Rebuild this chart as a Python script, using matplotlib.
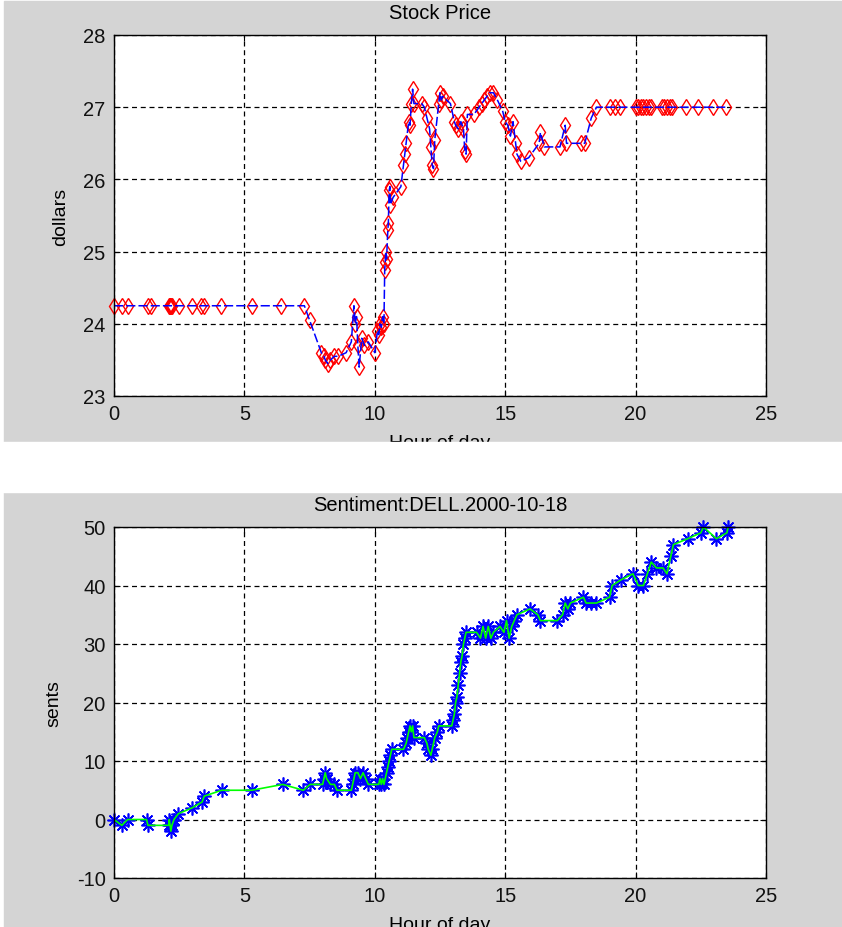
import matplotlib
matplotlib.use("Agg")
import matplotlib.pyplot as plt
from matplotlib.patches import Rectangle

plt.rcParams['font.family'] = ['Liberation Sans', 'DejaVu Sans']
plt.rcParams['axes.unicode_minus'] = False

# stock price (hour of day, dollars)
price_hours = [0.0, 0.3, 0.55, 1.3, 1.4, 2.1, 2.13, 2.16, 2.19, 2.22, 2.5, 3.0, 3.35, 3.45,
               4.1, 5.3, 6.4, 7.3, 7.5,
               7.95, 8.05, 8.1, 8.2, 8.3, 8.45, 8.6, 8.9, 9.1, 9.2, 9.25, 9.3, 9.35, 9.4,
               9.5, 9.6, 9.75, 10.0, 10.1, 10.15, 10.2, 10.25, 10.3, 10.35,
               10.38, 10.4, 10.42, 10.45, 10.5, 10.52, 10.55, 10.58, 10.6, 10.7, 11.0,
               11.1, 11.15, 11.2, 11.3, 11.35, 11.4, 11.45, 11.5, 11.8, 11.9, 12.0, 12.1,
               12.15, 12.2, 12.25, 12.3, 12.45, 12.5, 12.55, 12.6, 12.9, 13.05, 13.1, 13.2,
               13.3, 13.4, 13.45, 13.5, 13.55, 13.8, 14.0, 14.1, 14.2, 14.3, 14.4, 14.55,
               14.7, 14.9, 15.0, 15.1, 15.2, 15.3, 15.4, 15.45, 15.6, 15.9, 16.3, 16.35,
               16.5, 17.1, 17.3, 17.35, 17.9, 18.05, 18.3, 18.5, 19.0, 19.2, 19.4,
               20.0, 20.1, 20.2, 20.3, 20.4, 20.5, 20.6, 21.0, 21.1, 21.2, 21.3, 21.4,
               21.95, 22.4, 22.95, 23.45]
price = [24.25, 24.25, 24.25, 24.25, 24.25, 24.25, 24.25, 24.25, 24.25, 24.25, 24.25, 24.25,
         24.25, 24.25, 24.25, 24.25, 24.25, 24.25, 24.05,
         23.6, 23.55, 23.5, 23.45, 23.5, 23.55, 23.55, 23.6, 23.75, 24.25, 24.0, 24.1,
         23.7, 23.4, 23.8, 23.7, 23.75, 23.6, 23.9, 23.85, 24.0, 23.95, 24.1, 24.0,
         24.75, 24.85, 25.0, 24.9, 25.3, 25.4, 25.85, 25.9, 25.65, 25.75, 25.9,
         26.2, 26.35, 26.5, 26.8, 26.75, 27.05, 27.25, 27.05, 27.05, 27.0, 26.85, 26.7,
         26.45, 26.2, 26.15, 26.55, 27.05, 27.2, 27.1, 27.15, 27.05, 26.8, 26.75, 26.7,
         26.8, 26.7, 26.4, 26.35, 26.9, 26.9, 27.0, 27.05, 27.1, 27.15, 27.2, 27.2,
         27.1, 26.95, 26.8, 26.75, 26.6, 26.8, 26.5, 26.35, 26.25, 26.3, 26.5, 26.65,
         26.45, 26.45, 26.75, 26.5, 26.5, 26.5, 26.85, 27.0, 27.0, 27.0, 27.0,
         27.0, 27.0, 27.0, 27.0, 27.0, 27.0, 27.0, 27.0, 27.0, 27.0, 27.0, 27.0,
         27.0, 27.0, 27.0, 27.0]

# cumulative sentiment (hour of day, sents)
sent_hours = [0.0, 0.3, 0.52, 1.25, 1.3, 2.1, 2.12, 2.15, 2.18, 2.22, 2.3, 2.47, 3.0, 3.38,
              3.46, 4.13, 5.28, 6.47, 7.26, 7.52, 8.0, 8.05, 8.1, 8.15, 8.3, 8.45, 8.55,
              9.1, 9.15, 9.2, 9.25, 9.35, 9.45, 9.55, 9.65, 9.75, 10.15, 10.2, 10.25, 10.3,
              10.35, 10.45, 10.5, 10.55, 10.6, 10.65, 11.1, 11.2, 11.25, 11.3, 11.35, 11.4,
              11.45, 11.5, 11.9, 12.0, 12.05, 12.15, 12.2, 12.3, 12.4, 12.45, 12.95, 13.0,
              13.05, 13.1, 13.15, 13.2, 13.25, 13.3, 13.35, 13.4, 13.45, 13.5, 13.9, 14.05,
              14.15, 14.25, 14.35, 14.45, 14.55, 14.8, 14.95, 15.05, 15.15, 15.25, 15.35,
              15.45, 15.95, 16.25, 16.35, 17.0, 17.2, 17.3, 17.4, 17.5, 18.0, 18.1, 18.3,
              18.5, 19.0, 19.1, 19.45, 19.9, 20.1, 20.3, 20.45, 20.6, 20.8, 21.05, 21.2,
              21.35, 21.45, 22.0, 22.5, 22.6, 23.1, 23.5, 23.55]
sents = [0, -1, 0, 0, -1, -1, 0, -1, -2, -1, 0, 1, 2, 3,
         4, 5, 5, 6, 5, 6, 6, 7, 8, 7, 6, 6, 5,
         5, 6, 7, 8, 8, 7, 8, 7, 6, 6, 7, 6, 7,
         6, 8, 9, 10, 11, 12, 12, 13, 14, 15, 16, 15,
         16, 14, 14, 13, 12, 11, 12, 14, 15, 16, 16, 17,
         18, 20, 21, 23, 25, 27, 28, 30, 31, 32, 32, 31,
         33, 31, 33, 31, 32, 33, 32, 34, 31, 33, 34,
         35, 36, 35, 34, 34, 35, 37, 36, 37, 38, 37, 37,
         37, 38, 40, 41, 42, 40, 40, 42, 44, 43, 43, 42,
         45, 47, 48, 49, 50, 48, 49, 50]

W, H = 842, 928
fig = plt.figure(figsize=(W / 100, H / 100), dpi=100, facecolor='white')

grey = '#d4d4d4'
# grey panels behind each axes, like two separate matlab windows
fig.add_artist(Rectangle((4 / W, 1 - 443 / H), 1 - 4 / W, 441 / H,
                         transform=fig.transFigure, color=grey, zorder=-5))
fig.add_artist(Rectangle((4 / W, 0), 1 - 4 / W, 1 - 493 / H,
                         transform=fig.transFigure, color=grey, zorder=-5))


def style_axes(ax, title, ylabel):
    ax.set_facecolor('white')
    ax.grid(True, color='black', linestyle=(0, (4, 3)), linewidth=0.9)
    ax.set_axisbelow(True)
    for s in ax.spines.values():
        s.set_linewidth(1.0)
        s.set_color('black')
    ax.tick_params(direction='in', length=4, labelsize=14.5, pad=6, top=True, right=True,
                   labelcolor='#111111')
    ax.set_title(title, fontsize=14.5, pad=12)
    ax.set_ylabel(ylabel, fontsize=14, labelpad=10)
    ax.set_xlabel('Hour of day', fontsize=14, labelpad=8)


ax1 = fig.add_axes([114 / W, 1 - 397 / H, 652 / W, 361 / H])
ax1.plot(price_hours, price, linestyle='none', marker='d', markersize=8.5,
         markerfacecolor='none', markeredgecolor='red', markeredgewidth=1.0, clip_on=False)
ax1.plot(price_hours, price, color='blue', linestyle=(0, (6, 2)), linewidth=1.1)
ax1.set_xlim(0, 25)
ax1.set_ylim(23, 28)
ax1.set_xticks([0, 5, 10, 15, 20, 25])
ax1.set_yticks([23, 24, 25, 26, 27, 28])
style_axes(ax1, 'Stock Price', 'dollars')

ax2 = fig.add_axes([114 / W, 1 - 879 / H, 652 / W, 351 / H])
ax2.plot(sent_hours, sents, linestyle='none', marker=(8, 2, 0), markersize=10,
         markeredgecolor='blue', markeredgewidth=1.2, clip_on=False)
ax2.plot(sent_hours, sents, color='#00ff00', linewidth=1.2)
ax2.set_xlim(0, 25)
ax2.set_ylim(-10, 50)
ax2.set_xticks([0, 5, 10, 15, 20, 25])
ax2.set_yticks([-10, 0, 10, 20, 30, 40, 50])
style_axes(ax2, 'Sentiment:DELL.2000-10-18', 'sents')

# white gap between the two panels, it also cuts the lower xlabel like the original
fig.add_artist(Rectangle((0, 1 - 493 / H), 1, 50 / H,
                         transform=fig.transFigure, color='white', zorder=10))

fig.savefig('out.png', dpi=100, facecolor='white')
